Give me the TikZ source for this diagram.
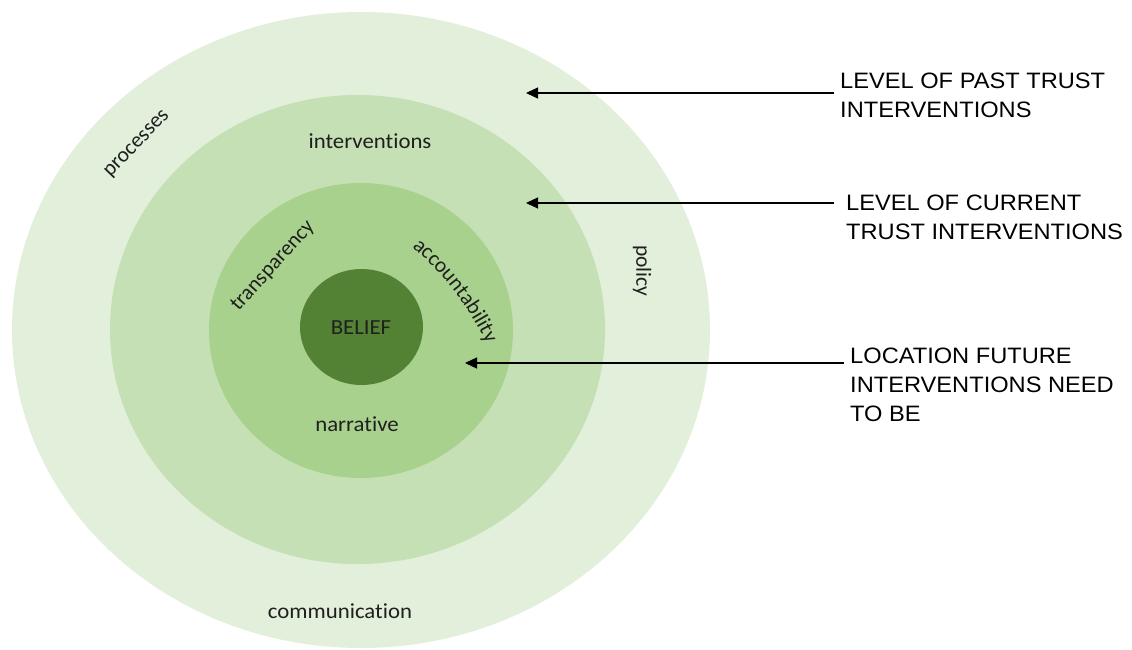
\documentclass[tikz,border=0pt]{standalone}
\usepackage{fontspec}
\setmainfont{Carlito}[Ligatures=NoCommon]
\newfontfamily\arialfont{Liberation Sans}
\usetikzlibrary{shapes.geometric,arrows.meta,decorations.text}
\definecolor{ringA}{HTML}{E2EFDA}
\definecolor{ringB}{HTML}{C5E0B4}
\definecolor{ringC}{HTML}{A9D18E}
\definecolor{ringD}{HTML}{548235}
\definecolor{labelcol}{HTML}{1F1F1F}
\tikzset{
  ring/.style={ellipse, draw=none, inner sep=0pt},
  ringlabel/.style={font=\fontsize{21.5}{25}\selectfont, text=labelcol, inner sep=0pt},
  flatlabel/.style={ringlabel, xscale=1.06, anchor=base},
  sidetext/.style={font=\arialfont\fontsize{22.3}{29}\selectfont, align=left, anchor=north west, inner sep=0pt, text=black, xscale=1.06},
  arr/.style={draw=black, line width=1.3pt, -{Triangle[length=12pt,width=11pt]}}
}
\begin{document}
\begin{tikzpicture}[x=1pt,y=1pt]
\useasboundingbox (0,0) rectangle (1132,-650);
% rings
\node[ring, fill=ringA, minimum width=698pt, minimum height=636pt] (outer) at (361,-330) {};
\node[ring, fill=ringB, minimum width=495pt, minimum height=469pt] (middle) at (357.5,-329.5) {};
\node[ring, fill=ringC, minimum width=304pt, minimum height=295pt] (inner) at (361,-330.5) {};
\node[ring, fill=ringD, minimum width=123pt, minimum height=116pt] (core) at (361.5,-327) {};
% ring labels
\node[flatlabel] (belief) at (361,-334) {BELIEF};
\node[flatlabel] (narr) at (357,-431) {narrative};
\node[flatlabel] (interv) at (370,-148) {interventions};
\node[flatlabel] (comm) at (340,-618) {communication};
\node[ringlabel, rotate=-90] (policy) at (642,-271) {policy};
\node[ringlabel, rotate=46] (proc) at (137.5,-144.5) {processes};
\node[ringlabel, rotate=48] (transp) at (273,-266) {transparency};
\path[decorate, decoration={text along path, text align=center, text color=labelcol,
   text={|\fontsize{21.5}{25}\selectfont|accountability}}]
   (222,-470) ++(54:293pt) arc[start angle=54, end angle=21, radius=293pt];
% side texts
\node[sidetext] (t1) at (840,-73) {LEVEL OF PAST TRUST\\INTERVENTIONS};
\node[sidetext] (t2) at (846,-195) {LEVEL OF CURRENT\\TRUST INTERVENTIONS};
\node[sidetext] (t3) at (850,-348) {LOCATION FUTURE\\INTERVENTIONS NEED\\TO BE};
% arrow tips
\coordinate (tip1) at (526,-93);
\coordinate (tip2) at (526,-203);
\coordinate (tip3) at (465,-363);
\draw[arr] (834,-93) -- (tip1);
\draw[arr] (834,-203) -- (tip2);
\draw[arr] (844,-363) -- (tip3);
\end{tikzpicture}
\end{document}
